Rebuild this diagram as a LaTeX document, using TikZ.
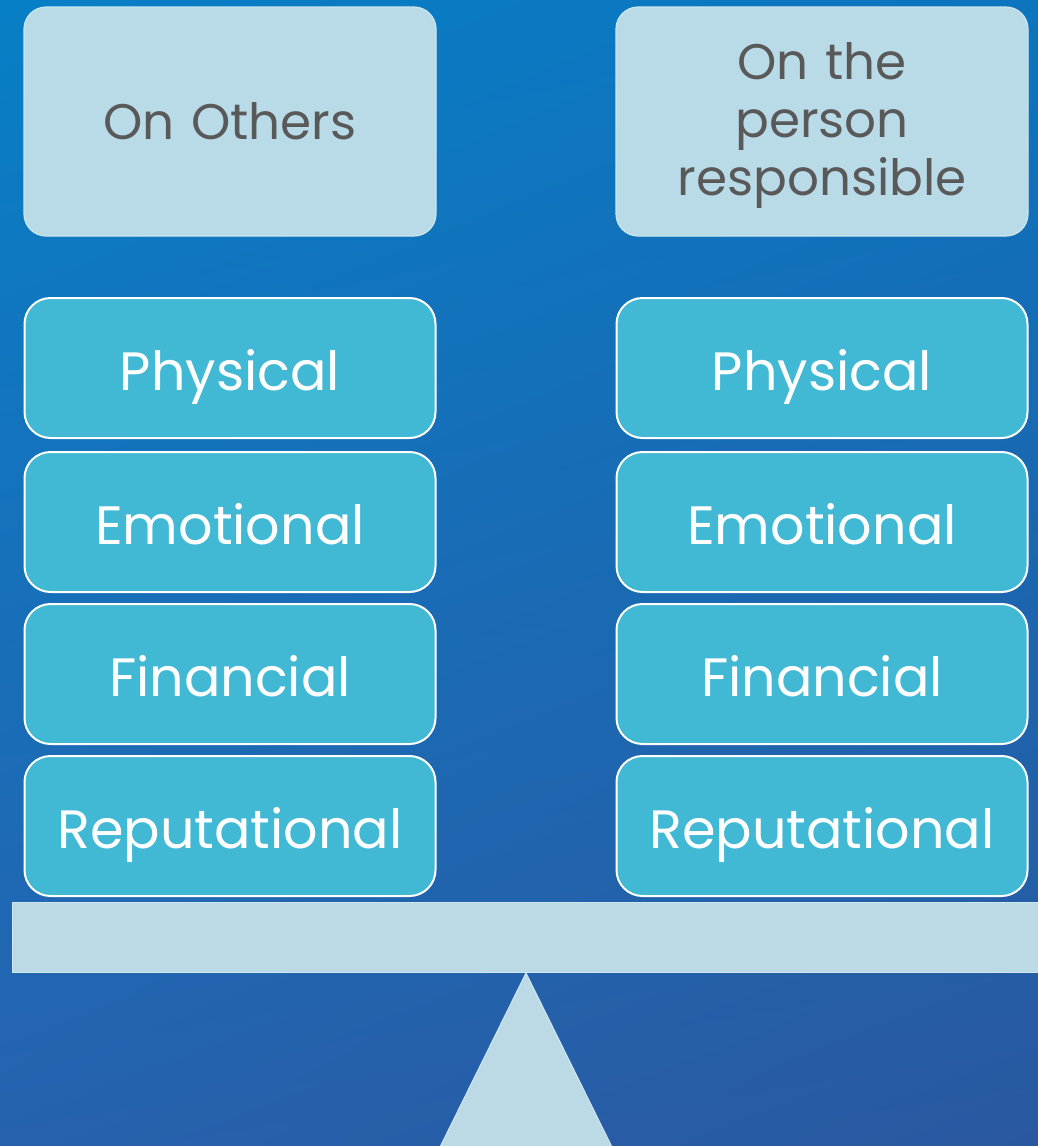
\documentclass[tikz,border=0pt]{standalone}
\usepackage{fontspec}
\setmainfont{Poppins}
\usetikzlibrary{shadings}
\definecolor{bgTL}{HTML}{077FC6}
\definecolor{bgTR}{HTML}{0D74BE}
\definecolor{bgBL}{HTML}{2662AE}
\definecolor{bgBR}{HTML}{2A58A0}
\definecolor{headfill}{HTML}{B9DBE8}
\definecolor{headline}{HTML}{CBE6EF}
\definecolor{headtext}{HTML}{595959}
\definecolor{itemfill}{HTML}{41B9D4}
\definecolor{scalefill}{HTML}{BCDAE6}
\definecolor{scaleline}{HTML}{CFE7EF}
\tikzset{
  headbox/.style={rectangle, rounded corners=22pt, fill=headfill, draw=headline, line width=1.2pt,
    minimum width=412pt, minimum height=229pt, text width=380pt, align=center,
    text=headtext, font=\fontsize{50}{58}\selectfont, inner sep=0pt},
  itembox/.style={rectangle, rounded corners=26pt, fill=itemfill, draw=white, line width=2pt,
    minimum width=411pt, minimum height=140pt, align=center, text height=50pt, text depth=6pt,
    text=white, font=\fontsize{54}{60}\selectfont, inner sep=0pt},
}
\begin{document}
\begin{tikzpicture}[x=1pt,y=-1pt]
\useasboundingbox (0,0) rectangle (1038,1146);
\shade[upper left=bgTL, upper right=bgTR, lower left=bgBL, lower right=bgBR] (0,0) rectangle (1038,1146);
% headers
\node[headbox] (hL) at (230,121.5) {On Others};
\node[headbox] (hR) at (822,121.5) {\raisebox{-4pt}[\height][\depth]{On the}\\\raisebox{-4pt}[\height][\depth]{person}\\\raisebox{-4pt}[\height][\depth]{responsible}};
% items
\node[itembox] (pL) at (230,368) {Physical};
\node[itembox] (eL) at (230,522) {Emotional};
\node[itembox] (fL) at (230,674) {Financial};
\node[itembox] (rL) at (230,826) {Reputational};
\node[itembox] (pR) at (822,368) {Physical};
\node[itembox] (eR) at (822,522) {Emotional};
\node[itembox] (fR) at (822,674) {Financial};
\node[itembox] (rR) at (822,826) {Reputational};
% beam and fulcrum
\node[rectangle, fill=scalefill, draw=scaleline, line width=1pt, minimum width=1028pt, minimum height=70pt, inner sep=0pt] (beam) at (526,937) {};
\coordinate (apex) at (526,973);
\coordinate (baseL) at (440,1147);
\coordinate (baseR) at (612,1147);
\draw[fill=scalefill, draw=scaleline, line width=1pt] (apex) -- (baseR) -- (baseL) -- cycle;
\end{tikzpicture}
\end{document}
